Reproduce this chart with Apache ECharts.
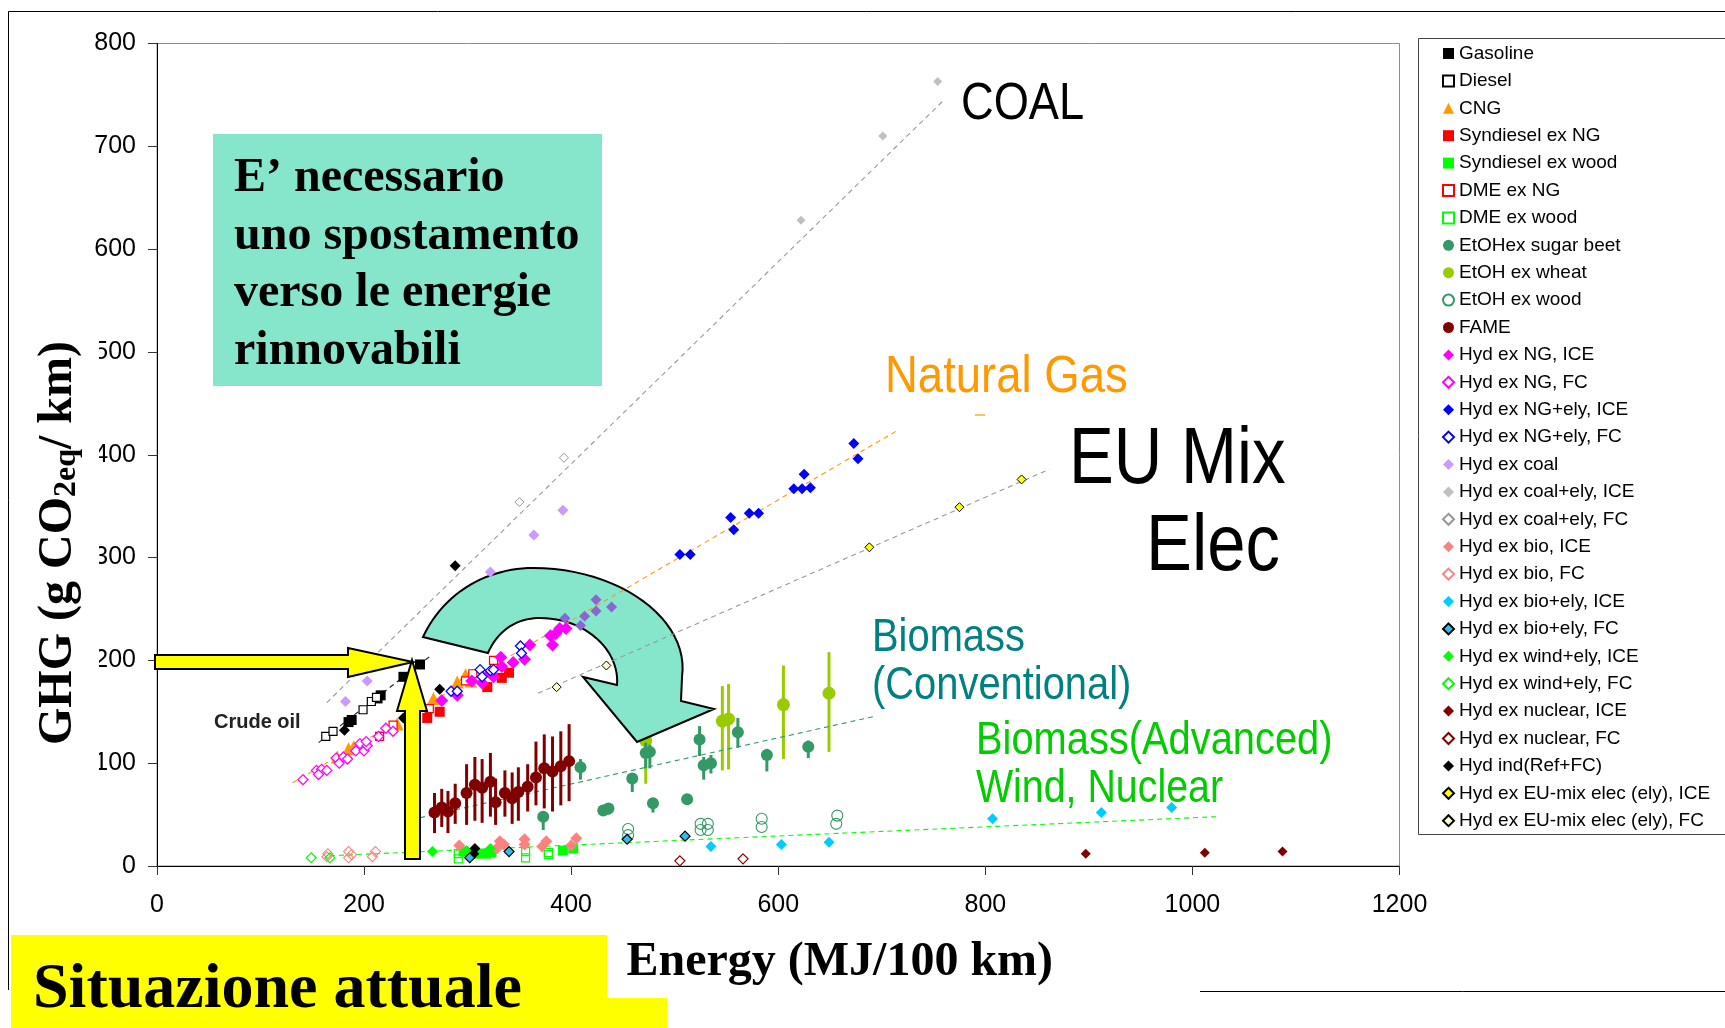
<!DOCTYPE html>
<html><head><meta charset="utf-8">
<style>html,body{margin:0;padding:0;background:#fff}#c{width:1725px;height:1028px}</style>
<script src="https://cdn.jsdelivr.net/npm/echarts@6/dist/echarts.min.js"></script>
</head><body><div id="c"></div>
<script>
// ---- values: [Energy MJ/100km, GHG g CO2eq/km]
const gasoline=[[254,196],[238,184],[216,166],[213,163],[185,140],[188,142]];
const diesel=[[163,126],[170,131],[199,152],[207,160],[212,164]];
const cng=[[174,106],[185,114],[190,116],[232,138],[267,163],[290,179],[298,186],[303,180]];
const synNG=[[261,144],[273,150],[319,174],[333,183],[340,188]];
const synWood=[[309,12],[323,13],[392,15],[402,17],[296,14],[318,12]];
const dmeNG=[[215,126],[228,137],[263,153],[298,180],[305,187],[325,200]];
const dmeWood=[[291,12],[291,7],[356,14],[356,8],[378,13],[378,11]];
const etohBeet=[[409,96],[431,54],[436,56],[459,85],[479,61],[512,65],[472,110],[476,111],[524,123],[528,98],[535,100],[561,130],[589,108],[629,116],[373,48]];
const etohBeetLow=[84,50,50,72,52,63,95,95,107,84,90,115,92,105,35];
const etohBeetHigh=[104,58,60,90,65,68,120,118,136,106,108,144,114,122,52];
const etohWheat=[[472,122],[546,141],[552,143],[605,157],[649,168]];
const etohWheatLow=[80,93,94,104,111];
const etohWheatHigh=[153,175,177,195,208];
const etohWood=[[455,36],[455,30],[525,41],[525,35],[532,41],[532,35],[584,46],[584,38],[657,49],[656,41]];
const fame=[[268,52],[275,57],[281,53],[288,61],[299,71],[307,79],[314,76],[322,82],[327,62],[336,71],[343,66],[349,72],[358,77],[366,86],[374,95],[382,92],[390,97],[398,102]];
const fameLow=[32,38,32,41,40,44,42,48,40,48,41,44,53,59,56,53,59,63];
const fameHigh=[71,75,73,80,99,106,104,110,85,93,91,96,99,121,128,126,131,138];
const hydNGIce=[[275,161],[290,166],[304,180],[314,178],[332,203],[333,194],[344,198],[355,201],[360,215],[380,224],[382,215],[385,226],[389,231],[395,231],[322,188],[325,184]];
const hydNGFc=[[141,84],[154,93],[159,94],[164,93],[156,89],[173,105],[176,100],[180,106],[184,104],[192,112],[196,119],[200,112],[203,117],[202,121],[214,126],[221,134],[228,131]];
const hydNGElyIce=[[505,303],[515,303],[554,339],[557,327],[572,343],[581,343],[615,367],[625,381],[623,367],[631,368],[673,411],[677,396]];
const hydNGElyFc=[[284,170],[290,170],[312,191],[314,184],[322,190],[325,191],[351,214],[352,207]];
const hydCoal=[[182,160],[203,180],[322,286],[364,322],[392,346],[394,241],[413,243],[424,259],[424,248],[439,252],[409,234]];
const hydCoalElyIce=[[622,628],[701,710],[754,763]];
const hydCoalElyFc=[[350,354],[393,397]];
const hydBioIce=[[292,20],[331,24],[328,17],[335,21],[355,26],[355,21],[376,24],[372,19],[405,27],[400,20]];
const hydBioFc=[[165,12],[164,9],[185,14],[185,8],[188,11],[211,14],[208,9]];
const hydBioElyIce=[[535,19],[603,21],[649,23],[807,46],[912,52],[980,57]];
const hydBioElyFc=[[454,26],[510,29],[302,8],[340,14]];
const hydWindIce=[[266,14],[299,15],[322,17]];
const hydWindFc=[[149,8],[167,8]];
const hydNuclearIce=[[897,12],[1012,13],[1087,14]];
const hydNuclearFc=[[505,5],[566,7]];
const hydInd=[[288,292],[273,172],[181,132],[238,144],[307,17],[306,12]];
const hydEuIce=[[688,310],[775,349],[835,376]];
const hydEuFc=[[386,174],[434,195]];
// trend lines
const trendGasoline=[[156,120],[265,205]];
const trendCoal=[[164,159],[761,746]];
const trendGas=[[131,81],[714,423]];
const trendEu=[[368,168],[862,386]];
const trendBiomass=[[254,47],[695,146]];
const trendAdvanced=[[167,10],[1024,48]];
const xTicks={min:0,max:1200,step:200};
const yTicks={min:0,max:800,step:100};

const square='rect',diamond='diamond',circle='circle',tri='triangle';
function S(name,data,symbol,size,fill,border,bw,z){
  return {type:'scatter',name,data,symbol,symbolSize:size,z:z||3,clip:false,silent:true,
    itemStyle:{color:fill,borderColor:border||fill,borderWidth:bw||0,opacity:1}};
}
const none='rgba(255,255,255,0)';
const markerSeries=[
 S('Gasoline',gasoline,square,10,'#000'),
 S('Diesel',diesel,square,8,'#fff','#000',1.2),
 S('CNG',cng,tri,13,'#ff9900'),
 S('Syndiesel ex NG',synNG,square,10,'#ff0000'),
 S('Syndiesel ex wood',synWood,square,10,'#00ff00'),
 S('DME ex NG',dmeNG,square,8,'#fff','#ff0000',1.2),
 S('DME ex wood',dmeWood,square,8,none,'#00ff00',1.2),
 S('EtOHex sugar beet',etohBeet,circle,12,'#339966'),
 S('EtOH ex wheat',etohWheat,circle,13,'#99cc00','#99cc00',0,1),
 S('EtOH ex wood',etohWood,circle,11,none,'#339966',1.1),
 S('FAME',fame,circle,12,'#800000'),
 S('Hyd ex NG, ICE',hydNGIce,diamond,13,'#ff00ff'),
 S('Hyd ex NG, FC',hydNGFc,diamond,10,'#fff','#ff00ff',1.3),
 S('Hyd ex NG+ely, ICE',hydNGElyIce,diamond,11,'#0000ff'),
 S('Hyd ex NG+ely, FC',hydNGElyFc,diamond,10,'#fff','#0000ff',1.3,4),
 {...S('Hyd ex coal',hydCoal,diamond,11,'#cc99ff'),
   data:hydCoal.map((d,i)=>i>=5?{value:d,itemStyle:{color:'#8a66d0'}}:d)},
 S('Hyd ex coal+ely, ICE',hydCoalElyIce,diamond,9,'#c0c0c0'),
 S('Hyd ex coal+ely, FC',hydCoalElyFc,diamond,9,'#fff','#969696',1),
 S('Hyd ex bio, ICE',hydBioIce,diamond,12,'#ff8080'),
 S('Hyd ex bio, FC',hydBioFc,diamond,10,none,'#ff8080',1.1),
 S('Hyd ex bio+ely, ICE',hydBioElyIce,diamond,11,'#00ccff'),
 S('Hyd ex bio+ely, FC',hydBioElyFc,diamond,10,'#33bbee','#000',1.2,4),
 S('Hyd ex wind+ely, ICE',hydWindIce,diamond,11,'#00ff00'),
 S('Hyd ex wind+ely, FC',hydWindFc,diamond,10,none,'#00ff00',1.2),
 S('Hyd ex nuclear, ICE',hydNuclearIce,diamond,10,'#800000'),
 S('Hyd ex nuclear, FC',hydNuclearFc,diamond,10,none,'#800000',1.2),
 S('Hyd ind(Ref+FC)',hydInd,diamond,11,'#000'),
 S('Hyd ex EU-mix elec (ely), ICE',hydEuIce,diamond,9,'#ffff00','#000',1),
 S('Hyd ex EU-mix elec (ely), FC',hydEuFc,diamond,9,'#ffffcc','#000',1)
];
function errBars(points,low,high,color,w,z){
  return {type:'custom',name:'err',silent:true,z:z,clip:false,
    data:points.map((p,i)=>[p[0],low[i],high[i]]),
    renderItem:(params,api)=>{
      const a=api.coord([api.value(0),api.value(1)]),b=api.coord([api.value(0),api.value(2)]);
      return {type:'line',shape:{x1:a[0],y1:a[1],x2:b[0],y2:b[1]},style:{stroke:color,lineWidth:w}};
    }};
}
function trend(data,color){
  return {type:'line',name:'trend',data,symbol:'none',silent:true,z:2,clip:false,
    lineStyle:{color,width:1.1,type:[5,4]}};
}
// outline of the decorative curved arrow, page pixels
function curve(p0,p1,p2,p3){
  const out=[];
  for(let i=0;i<=24;i++){const t=i/24,u=1-t;
    out.push([u*u*u*p0[0]+3*u*u*t*p1[0]+3*u*t*t*p2[0]+t*t*t*p3[0],
              u*u*u*p0[1]+3*u*u*t*p1[1]+3*u*t*t*p2[1]+t*t*t*p3[1]]);}
  return out;
}
const curvedArrow=[
 ...curve([423,637],[445,590],[490,568],[533,568]),
 ...curve([533,568],[620,568],[690,620],[682,677]),
 [681,701],[714,709],[637,742],[583,677],
 ...curve([617,685],[620,650],[585,618],[540,618]),
 ...curve([540,618],[515,618],[497,632],[488,653])
];
const serif='"Liberation Serif","Times New Roman",serif';
const sans='"Liberation Sans",Arial,sans-serif';
function label(text,x,y,size,color,sx){
  return {type:'text',x,y,z:12,scaleX:sx,style:{text,fontFamily:sans,fontSize:size,fill:color,textBaseline:'top',lineHeight:size}};
}
const chart=echarts.init(document.getElementById('c'),null,{renderer:'canvas'});
chart.setOption({
 animation:false,backgroundColor:'#fff',
 grid:{left:157,top:43.5,width:1242.5,height:822.5,show:true,borderColor:'#8c8c8c',borderWidth:1,backgroundColor:'transparent'},
 xAxis:{type:'value',min:xTicks.min,max:xTicks.max,interval:xTicks.step,splitLine:{show:false},
   axisLine:{lineStyle:{color:'#000',width:1}},axisTick:{length:9,inside:false,lineStyle:{color:'#333'}},
   axisLabel:{fontFamily:sans,fontSize:25,color:'#000',margin:27,formatter:v=>String(v)},
   name:'Energy (MJ/100 km)',nameLocation:'middle',nameGap:73,
   nameTextStyle:{fontFamily:serif,fontWeight:'bold',fontSize:48,color:'#000',padding:[0,0,0,123]}},
 yAxis:{type:'value',min:yTicks.min,max:yTicks.max,interval:yTicks.step,splitLine:{show:false},
   axisLine:{lineStyle:{color:'#000',width:1}},axisTick:{length:9,lineStyle:{color:'#333'}},
   axisLabel:{fontFamily:sans,fontSize:25,color:'#000',margin:21,padding:[4,0,0,0]}},
 legend:{show:true,orient:'vertical',left:1442,top:39,itemWidth:11,itemHeight:11,itemGap:8.4,selectedMode:false,
   padding:[5,0,0,0],data:markerSeries.map(s=>s.name),
   textStyle:{fontFamily:sans,fontSize:19,color:'#000',lineHeight:18}},
 series:[
  errBars(etohWheat,etohWheatLow,etohWheatHigh,'#99cc00',3,1),
  errBars(etohBeet,etohBeetLow,etohBeetHigh,'#339966',3,3),
  errBars(fame,fameLow,fameHigh,'#800000',3,3),
  trend(trendGasoline,'#222'),trend(trendCoal,'#999'),trend(trendGas,'#ff9900'),
  trend(trendEu,'#999'),trend(trendBiomass,'#339966'),trend(trendAdvanced,'#00ff00'),
  ...markerSeries
 ],
 graphic:[
  {type:'line',z:0,shape:{x1:8.5,y1:11.5,x2:8.5,y2:990},style:{stroke:'#000',lineWidth:1}},
  {type:'line',z:0,shape:{x1:8.5,y1:11.5,x2:1725,y2:11.5},style:{stroke:'#000',lineWidth:1}},
  {type:'line',z:0,shape:{x1:1200,y1:991.5,x2:1725,y2:991.5},style:{stroke:'#000',lineWidth:1}},
  {type:'rect',z:0,shape:{x:1418.5,y:38.5,width:320,height:796},style:{fill:'#fff',stroke:'#444',lineWidth:1}},
  {type:'rect',z:5,shape:{x:30,y:330,width:69,height:445},style:{fill:'#fff'}},
  {type:'text',z:6,x:59,y:543,rotation:Math.PI/2,style:{text:'{a|GHG (g CO}{b|2eq}{a|/ km)}',align:'center',verticalAlign:'middle',fill:'#000',
     rich:{a:{fontFamily:serif,fontWeight:'bold',fontSize:48,fill:'#000'},
           b:{fontFamily:serif,fontWeight:'bold',fontSize:32,fill:'#000',padding:[15,0,0,0]}}}},
  {type:'rect',z:8,shape:{x:213,y:134,width:389,height:252},style:{fill:'#85e6cc'}},
  {type:'text',x:234,y:150,z:9,style:{text:"E’ necessario\nuno spostamento\nverso le energie\nrinnovabili",fontFamily:serif,fontWeight:'bold',fontSize:48,lineHeight:57.5,fill:'#000',textBaseline:'top'}},
  {type:'polygon',z:2,shape:{points:curvedArrow},style:{fill:'#85e6cc',stroke:'#000',lineWidth:2}},
  {type:'polygon',z:10,shape:{points:[[155,655],[348,655],[348,648],[413,662],[348,677],[348,669],[155,669]]},style:{fill:'#ffff00',stroke:'#000',lineWidth:2}},
  {type:'polygon',z:10,shape:{points:[[412,660],[427,711],[420,711],[420,859],[405,859],[405,711],[397,711]]},style:{fill:'#ffff00',stroke:'#000',lineWidth:2}},
  {type:'text',x:214,y:712,z:11,style:{text:'Crude oil',fontFamily:sans,fontWeight:'bold',fontSize:20,fill:'#222',textBaseline:'top'}},
  label('COAL',961,79,52,'#000',0.87),
  label('Natural Gas',885,352,52,'#ff9900',0.875),
  label('EU Mix',1069,421,80,'#000',0.84),
  label('Elec',1146,508,80,'#000',0.86),
  label('Biomass',872,615,46,'#008080',0.867),
  label('(Conventional)',872,663,46,'#008080',0.867),
  label('Biomass(Advanced)',976,718,46,'#00cc00',0.866),
  label('Wind, Nuclear',976,766,46,'#00cc00',0.855),
  {type:'line',z:3,shape:{x1:975,y1:415,x2:985,y2:415},style:{stroke:'#ff9900',lineWidth:1.2}},
  {type:'rect',z:13,shape:{x:11,y:935,width:596,height:65},style:{fill:'#ffff00'}},
  {type:'rect',z:13,shape:{x:11,y:998,width:656,height:30},style:{fill:'#ffff00'}},
  {type:'text',x:33,y:958,z:14,style:{text:'Situazione attuale',fontFamily:serif,fontWeight:'bold',fontSize:64,fill:'#000',textBaseline:'top'}}
 ]
});
</script></body></html>
